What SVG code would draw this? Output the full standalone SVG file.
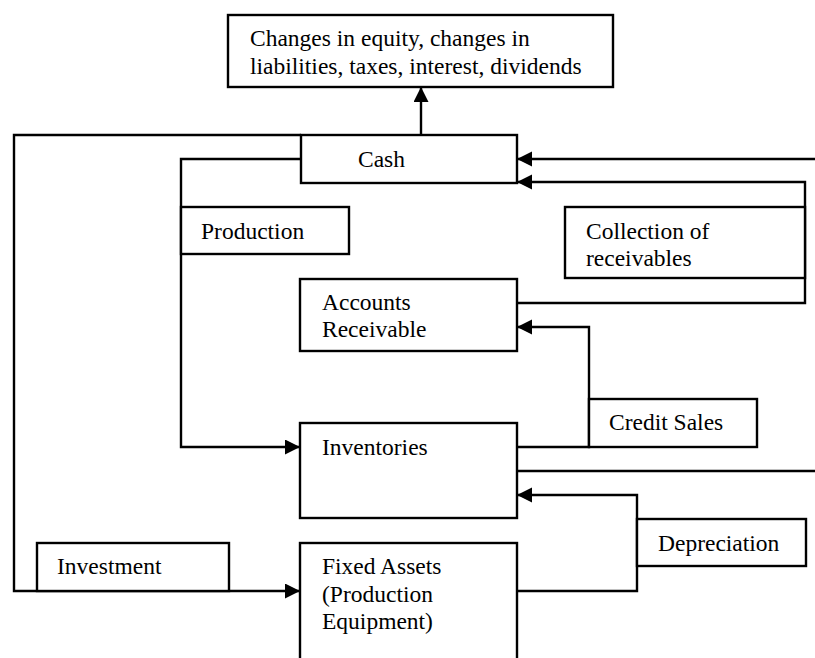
<svg xmlns="http://www.w3.org/2000/svg" width="815" height="658" viewBox="0 0 815 658">
  <style>
    .box { fill: #ffffff; stroke: #000000; stroke-width: 2.4; }
    .wire { fill: none; stroke: #000000; stroke-width: 2.4; }
    text { font-family: "Liberation Serif", "Times New Roman", serif; font-size: 23.5px; fill: #000000; }
  </style>
  <defs>
    <marker id="arrow" markerUnits="userSpaceOnUse" markerWidth="16" markerHeight="16" refX="15" refY="7.5" orient="auto">
      <path d="M0,0 L15,7.5 L0,15 z" fill="#000000"/>
    </marker>
  </defs>

  <rect width="815" height="658" fill="#ffffff"/>

  <!-- connectors -->
  <g id="connectors">
    <!-- cash outflows to equity / liabilities -->
    <path class="wire" d="M421,135 V87" marker-end="url(#arrow)"/>
    <!-- investment: cash to fixed assets -->
    <path class="wire" d="M301,135 H14 V591 H300" marker-end="url(#arrow)"/>
    <!-- production: cash to inventories -->
    <path class="wire" d="M301,159 H181 V447 H300" marker-end="url(#arrow)"/>
    <!-- inflow into cash from the right -->
    <path class="wire" d="M815,159 H517" marker-end="url(#arrow)"/>
    <!-- collection of receivables -->
    <path class="wire" d="M517,303 H805 V182 H517" marker-end="url(#arrow)"/>
    <!-- credit sales -->
    <path class="wire" d="M517,447 H589 V327 H517" marker-end="url(#arrow)"/>
    <!-- outflow from inventories -->
    <path class="wire" d="M517,471 H815"/>
    <!-- depreciation -->
    <path class="wire" d="M517,591 H637 V495 H517" marker-end="url(#arrow)"/>
  </g>

  <g id="equity">
    <rect class="box" x="228" y="15" width="385" height="72"/>
    <text x="250" y="46">Changes in equity, changes in</text>
    <text x="250" y="74">liabilities, taxes, interest, dividends</text>
  </g>

  <g id="cash">
    <rect class="box" x="301" y="135" width="216" height="48"/>
    <text x="358" y="167">Cash</text>
  </g>

  <g id="production">
    <rect class="box" x="181" y="207" width="168" height="47"/>
    <text x="201" y="239">Production</text>
  </g>

  <g id="collection">
    <rect class="box" x="565" y="207" width="240" height="71"/>
    <text x="586" y="239">Collection of</text>
    <text x="586" y="266">receivables</text>
  </g>

  <g id="receivables">
    <rect class="box" x="300" y="279" width="217" height="72"/>
    <text x="322" y="310">Accounts</text>
    <text x="322" y="337">Receivable</text>
  </g>

  <g id="credit-sales">
    <rect class="box" x="589" y="399" width="168" height="48"/>
    <text x="609" y="430">Credit Sales</text>
  </g>

  <g id="inventories">
    <rect class="box" x="300" y="423" width="217" height="95"/>
    <text x="322" y="455">Inventories</text>
  </g>

  <g id="depreciation">
    <rect class="box" x="637" y="519" width="169" height="47"/>
    <text x="658" y="551">Depreciation</text>
  </g>

  <g id="investment">
    <rect class="box" x="37" y="543" width="192" height="48"/>
    <text x="57" y="574">Investment</text>
  </g>

  <g id="fixed-assets">
    <rect class="box" x="300" y="543" width="217" height="125"/>
    <text x="322" y="574">Fixed Assets</text>
    <text x="322" y="602">(Production</text>
    <text x="322" y="629">Equipment)</text>
  </g>
</svg>
